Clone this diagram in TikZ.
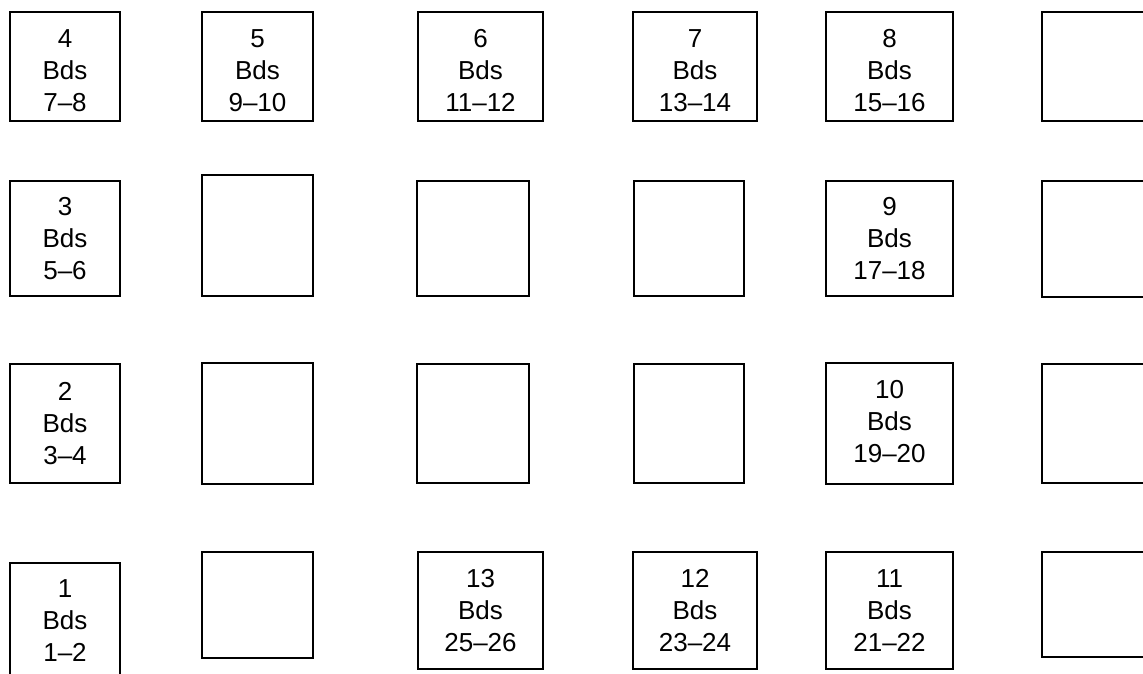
\documentclass[tikz,border=0pt]{standalone}
\usepackage{fontspec}
\setmainfont{Liberation Sans}
\tikzset{
  bedbox/.style={draw=black, line width=1.1pt, fill=white, inner sep=0pt},
  bedlbl/.style={align=center, inner sep=0pt, font=\fontsize{19.5}{23.8}\selectfont}
}
% name, x1, y1, x2, y2 (pixel units)
\newcommand\bedrect[5]{%
  \node[bedbox, minimum width={(#4-#2)*0.75pt}, minimum height={(#5-#3)*0.75pt}]
    (#1) at ({(#2+#4)/2},{(#3+#5)/2}) {};}
% name of box, label, vertical shift in px
\newcommand\bedtext[3]{%
  \node[bedlbl] (#1t) at ([yshift={-(#3)*0.75pt}]#1.center) {#2};}
\begin{document}
\begin{tikzpicture}[x=0.75pt,y=-0.75pt]
\useasboundingbox (0,0) rectangle (1143,674);
\clip (0,0) rectangle (1143,674);
\fill[white] (0,0) rectangle (1143,674);
% Row 1
\bedrect{n4}{10}{12}{120}{121}   \bedtext{n4}{4\\Bds\\7--8}{4}
\bedrect{n5}{202}{12}{313}{121}  \bedtext{n5}{5\\Bds\\9--10}{4}
\bedrect{n6}{418}{12}{543}{121}  \bedtext{n6}{6\\Bds\\11--12}{4}
\bedrect{n7}{633}{12}{757}{121}  \bedtext{n7}{7\\Bds\\13--14}{4}
\bedrect{n8}{826}{12}{953}{121}  \bedtext{n8}{8\\Bds\\15--16}{4}
\bedrect{r1}{1042}{12}{1170}{121}
% Row 2
\bedrect{n3}{10}{181}{120}{296}  \bedtext{n3}{3\\Bds\\5--6}{0}
\bedrect{e22}{202}{175}{313}{296}
\bedrect{e23}{417}{181}{529}{296}
\bedrect{e24}{634}{181}{744}{296}
\bedrect{n9}{826}{181}{953}{296} \bedtext{n9}{9\\Bds\\17--18}{0}
\bedrect{r2}{1042}{181}{1170}{297}
% Row 3
\bedrect{n2}{10}{364}{120}{483}  \bedtext{n2}{2\\Bds\\3--4}{0}
\bedrect{e32}{202}{363}{313}{484}
\bedrect{e33}{417}{364}{529}{483}
\bedrect{e34}{634}{364}{744}{483}
\bedrect{n10}{826}{363}{953}{484} \bedtext{n10}{10\\Bds\\19--20}{-2}
\bedrect{r3}{1042}{364}{1170}{483}
% Row 4
\bedrect{n1}{10}{563}{120}{680}  \bedtext{n1}{1\\Bds\\1--2}{-1}
\bedrect{e42}{202}{552}{313}{658}
\bedrect{n13}{418}{552}{543}{669} \bedtext{n13}{13\\Bds\\25--26}{0}
\bedrect{n12}{633}{552}{757}{669} \bedtext{n12}{12\\Bds\\23--24}{0}
\bedrect{n11}{826}{552}{953}{669} \bedtext{n11}{11\\Bds\\21--22}{0}
\bedrect{r4}{1042}{552}{1170}{657}
\end{tikzpicture}
\end{document}
